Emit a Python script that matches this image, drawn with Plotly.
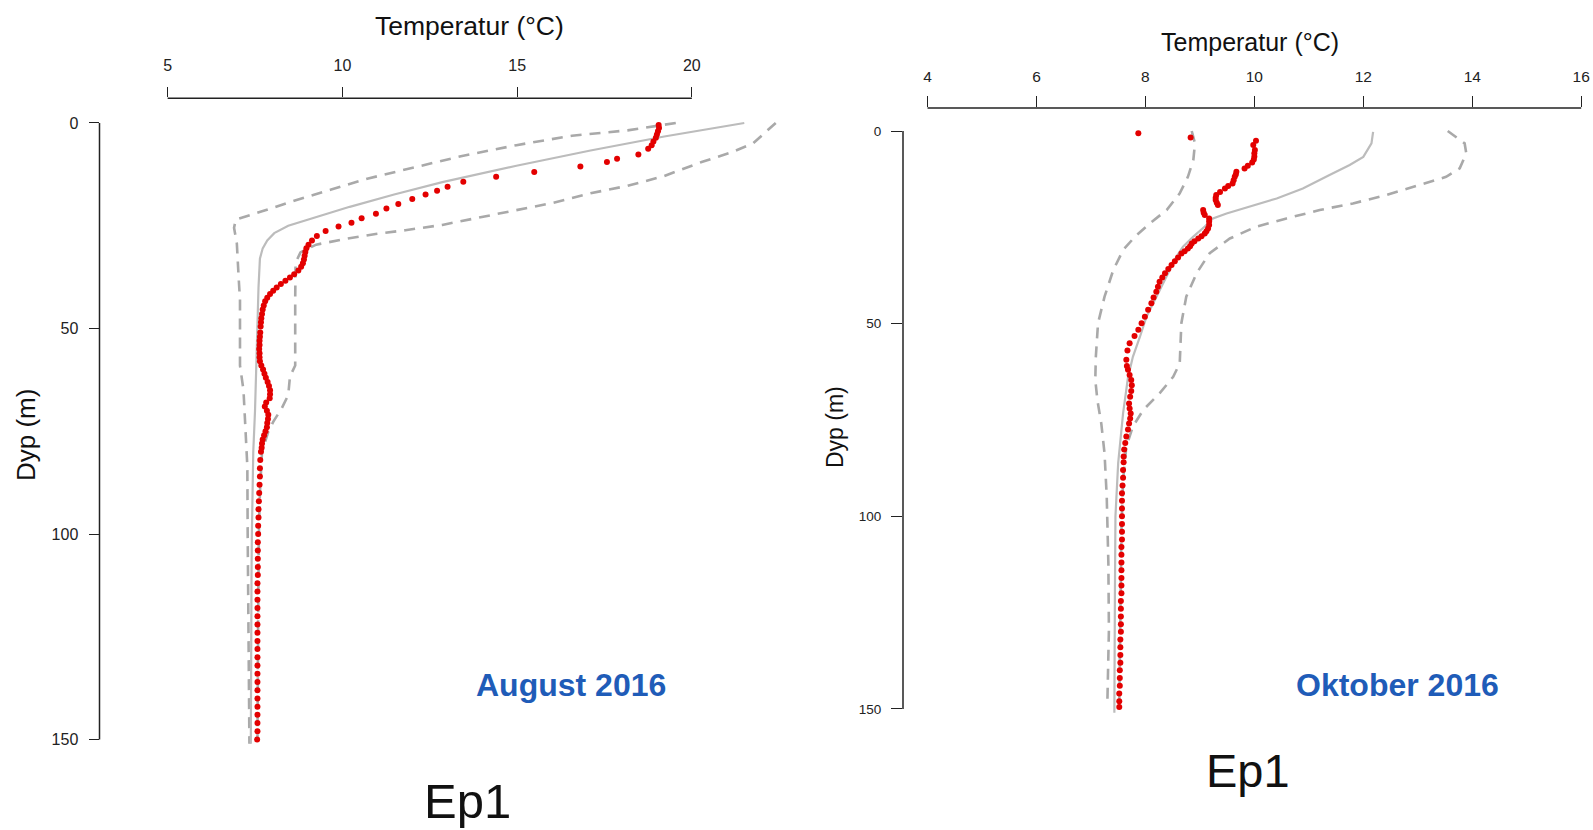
import plotly.graph_objects as go

W, H = 1593, 830
FONT = "Liberation Sans, Arial, sans-serif"

# ---------------- August 2016 (left panel) ----------------
aug_x_ticks = [5, 10, 15, 20]
aug_y_ticks = [0, 50, 100, 150]

aug_red_depth = [0.5, 1.2, 2.0, 2.8, 3.6, 4.5, 5.4, 6.3, 7.7, 8.7, 9.5, 10.6, 11.9, 13.1, 14.3,
                 15.5, 16.5, 17.4, 18.5, 19.7, 20.8, 22.1, 23.2, 24.3, 25.2, 26.3, 27.5, 28.6,
                 29.6, 30.5, 31.4, 32.3, 33.2, 34.1, 35.0, 35.9, 36.8, 37.6, 38.4, 39.2, 40.0,
                 40.8, 41.6, 42.5, 43.4, 44.4, 45.4, 46.5, 47.5, 48.5, 49.5, 51, 52, 53, 54, 55,
                 56, 57, 58, 59, 60, 61, 62, 63, 64, 65, 66, 67, 68, 69, 70, 71, 72, 73, 74, 75,
                 76, 77, 78, 79, 80, 82, 84, 86, 88, 90, 92, 94, 96, 98, 100, 102, 104, 106, 108,
                 110, 112, 114, 116, 118, 120, 122, 124, 126, 128, 130, 132, 134, 136, 138, 140,
                 142, 144, 146, 148, 150]
aug_red_temp = [19.05, 19.06, 19.03, 19.00, 18.97, 18.90, 18.85, 18.75, 18.47, 17.86, 17.57, 16.81,
                15.49, 14.40, 13.46, 13.01, 12.71, 12.38, 12.00, 11.60, 11.26, 10.96, 10.55, 10.26,
                9.89, 9.52, 9.27, 9.13, 9.03, 8.97, 8.94, 8.92, 8.90, 8.87, 8.82, 8.74, 8.62, 8.50,
                8.37, 8.24, 8.12, 8.02, 7.93, 7.85, 7.79, 7.75, 7.72, 7.70, 7.68, 7.67, 7.66, 7.65,
                7.64, 7.63, 7.63, 7.62, 7.63, 7.63, 7.64, 7.68, 7.73, 7.77, 7.81, 7.86, 7.90, 7.93,
                7.93, 7.92, 7.82, 7.78, 7.84, 7.88, 7.87, 7.85, 7.84, 7.80, 7.76, 7.72, 7.70, 7.69,
                7.67, 7.65, 7.64, 7.64, 7.63, 7.62, 7.61, 7.60, 7.60, 7.59, 7.59, 7.58, 7.58, 7.58,
                7.58, 7.58, 7.57, 7.57, 7.57, 7.57, 7.57, 7.57, 7.57, 7.57, 7.57, 7.57, 7.57, 7.57,
                7.57, 7.57, 7.57, 7.57, 7.57, 7.57, 7.57, 7.56]

aug_mean_depth = [0, 3.3, 6.7, 10.4, 14.4, 17.4, 20.4, 23.1, 25.0, 26.8, 28.6, 30.5, 33, 40, 50,
                  60, 70, 80, 90, 100, 110, 120, 130, 140, 151]
aug_mean_temp = [21.5, 19.21, 17.1, 14.98, 12.86, 11.48, 10.21, 9.15, 8.45, 8.05, 7.85, 7.72, 7.64,
                 7.60, 7.57, 7.53, 7.50, 7.45, 7.42, 7.41, 7.40, 7.39, 7.38, 7.38, 7.38]

aug_lo_depth = [0, 1.8, 3.1, 5.4, 8.1, 11.3, 13.5, 16.2, 18.9, 21.5, 23.5, 25.5, 29.3, 37.4, 43,
                59, 65, 70, 76, 83.5, 100, 120, 140, 151]
aug_lo_temp = [19.54, 18.16, 16.57, 14.98, 13.39, 11.80, 10.74, 9.68, 8.62, 7.70, 6.95, 6.90, 6.98,
               7.03, 7.07, 7.07, 7.17, 7.20, 7.24, 7.28, 7.29, 7.31, 7.33, 7.34]

aug_hi_depth = [0, 4.9, 7.2, 9.5, 12.9, 15.3, 17.1, 19.4, 21.2, 23, 24.8, 26.1, 27, 28.2, 29.6,
                31.5, 34, 43, 59, 61.7, 66.2, 69.5, 72.7, 75.1, 80, 90, 100, 120, 140, 150]
aug_hi_temp = [22.4, 21.76, 21.12, 20.28, 19.21, 18.16, 17.10, 16.04, 14.98, 13.92, 12.86, 11.80,
               10.95, 10.10, 9.25, 8.80, 8.66, 8.65, 8.65, 8.50, 8.45, 8.26, 8.02, 7.88, 7.70,
               7.64, 7.61, 7.59, 7.58, 7.57]

# ---------------- Oktober 2016 (right panel) ----------------
okt_x_ticks = [4, 6, 8, 10, 12, 14, 16]
okt_y_ticks = [0, 50, 100, 150]

okt_red_depth = [0.6, 1.7, 2.5, 3.6, 4.9, 5.8, 6.6, 7.4, 8.2, 9.0, 9.7, 10.6, 11.3, 11.9, 12.8,
                 13.6, 14.3, 14.9, 15.8, 16.6, 17.3, 17.9, 18.6, 19.2, 20.5, 21.2, 21.8, 22.7,
                 23.5, 24.4, 25.3, 26.0, 26.6, 27.3, 27.9, 28.6, 29.2, 29.9, 30.5, 31.2, 31.8,
                 32.8, 33.8, 34.8, 35.8, 36.9, 38.0, 39.1, 40.4, 41.7, 43.2, 44.7, 46.4, 48.2,
                 49.9, 51.6, 53.2, 55.1, 57, 59.4, 61, 62, 63.3, 64.6, 66, 67.5, 69, 70.7, 72,
                 73.3, 74.6, 75.9, 77.5, 79.3, 81, 82.7, 84.5, 86, 88, 90, 92, 94, 96, 98, 100,
                 102, 104, 106, 108, 110, 112, 114, 116, 118, 120, 122, 124, 126, 128, 130, 132,
                 134, 136, 138, 140, 142, 144, 146, 148, 149.5]
okt_red_temp = [7.87, 8.83, 10.03, 9.98, 10.01, 10.00, 10.00, 9.99, 9.96, 9.88, 9.82, 9.67, 9.66,
                9.64, 9.62, 9.60, 9.52, 9.46, 9.37, 9.30, 9.29, 9.29, 9.31, 9.33, 9.06, 9.07,
                9.09, 9.17, 9.17, 9.17, 9.15, 9.12, 9.09, 9.03, 8.97, 8.90, 8.85, 8.82, 8.78,
                8.72, 8.66, 8.60, 8.54, 8.48, 8.42, 8.36, 8.31, 8.26, 8.23, 8.20, 8.15, 8.11,
                8.05, 7.99, 7.93, 7.87, 7.80, 7.71, 7.67, 7.65, 7.66, 7.68, 7.71, 7.74, 7.75,
                7.74, 7.72, 7.70, 7.71, 7.73, 7.72, 7.70, 7.68, 7.65, 7.63, 7.61, 7.60, 7.60,
                7.59, 7.59, 7.58, 7.57, 7.57, 7.57, 7.57, 7.57, 7.57, 7.57, 7.56, 7.56, 7.56,
                7.56, 7.56, 7.56, 7.56, 7.55, 7.55, 7.55, 7.55, 7.55, 7.54, 7.54, 7.54, 7.54,
                7.53, 7.53, 7.53, 7.52, 7.52, 7.52]

okt_mean_depth = [0.2, 3.2, 6.7, 8.8, 11.4, 14.9, 17.5, 19.6, 21.4, 22.7, 24.8, 27.4, 30, 32.6,
                  36.1, 39.5, 43, 48.2, 53.4, 58.6, 64, 73.3, 86.2, 100, 121, 140, 151]
okt_mean_temp = [12.18, 12.15, 12.00, 11.75, 11.38, 10.89, 10.41, 9.92, 9.49, 9.24, 9.09, 8.88,
                 8.69, 8.57, 8.45, 8.32, 8.20, 8.02, 7.90, 7.77, 7.68, 7.59, 7.50, 7.45, 7.44,
                 7.43, 7.43]

okt_lo_depth = [0, 3.2, 7.5, 11.9, 16.2, 20.5, 24, 27.4, 30.9, 36.1, 43, 49.9, 58.6, 64.6, 70,
                75.9, 83.7, 94.9, 112.2, 129.5, 149.4]
okt_lo_temp = [8.85, 8.91, 8.88, 8.78, 8.63, 8.39, 8.08, 7.81, 7.59, 7.41, 7.25, 7.13, 7.09, 7.08,
               7.12, 7.19, 7.25, 7.29, 7.32, 7.33, 7.30]

okt_hi_depth = [0, 3.2, 5.8, 9.7, 11.9, 14, 16.6, 18.8, 20.5, 22.7, 24.8, 27.9, 31.7, 36.9, 43,
                49.9, 58.6, 60.3, 63.8, 68.1, 72.4, 76.7, 81.9, 90.6, 103.6, 129.5, 149.8]
okt_hi_temp = [13.55, 13.86, 13.89, 13.77, 13.52, 13.03, 12.42, 11.81, 11.20, 10.59, 10.04, 9.55,
               9.18, 8.94, 8.75, 8.66, 8.63, 8.63, 8.51, 8.26, 7.96, 7.77, 7.65, 7.59, 7.56, 7.54,
               7.52]

# ---------------- styling ----------------
RED = "#e30000"
SOLID_C = "#bcbcbc"
DASH_C = "#a9a9a9"
AX_C = "#222222"
BLUE = "#1f5cb8"


def P(px, py):
    return px / W, 1 - py / H


fig = go.Figure()


def add_panel(xa, ya, lo_t, lo_d, hi_t, hi_d, mean_t, mean_d, red_t, red_d):
    for t, d in ((lo_t, lo_d), (hi_t, hi_d)):
        fig.add_trace(go.Scatter(x=t, y=d, mode="lines", xaxis=xa, yaxis=ya,
                                 line=dict(color=DASH_C, width=2.6, dash="11px,8px"),
                                 hoverinfo="skip"))
    fig.add_trace(go.Scatter(x=mean_t, y=mean_d, mode="lines", xaxis=xa, yaxis=ya,
                             line=dict(color=SOLID_C, width=2.2), hoverinfo="skip"))
    fig.add_trace(go.Scatter(x=red_t, y=red_d, mode="markers", xaxis=xa, yaxis=ya,
                             marker=dict(color=RED, size=6, line=dict(width=0))))


add_panel("x", "y", aug_lo_temp, aug_lo_depth, aug_hi_temp, aug_hi_depth,
          aug_mean_temp, aug_mean_depth, aug_red_temp, aug_red_depth)
add_panel("x2", "y2", okt_lo_temp, okt_lo_depth, okt_hi_temp, okt_hi_depth,
          okt_mean_temp, okt_mean_depth, okt_red_temp, okt_red_depth)

common_axis = dict(showgrid=False, zeroline=False, showline=False, ticks="outside",
                   tickwidth=1.4, tickcolor=AX_C)

fig.update_layout(
    width=W, height=H, margin=dict(l=0, r=0, t=0, b=0),
    paper_bgcolor="white", plot_bgcolor="white", showlegend=False,
    font=dict(family=FONT, color="#222"),
    xaxis=dict(common_axis, domain=[99.5 / W, 796.7 / W], range=[3.05, 23.0], side="top",
               anchor="y", tickvals=aug_x_ticks, ticklen=10, ticklabelstandoff=10,
               tickfont=dict(family=FONT, size=16, color="#222")),
    yaxis=dict(common_axis, domain=[1 - 764.2 / H, 1 - 98.3 / H], range=[156, -6], anchor="x",
               tickvals=aug_y_ticks, ticklen=10, ticklabelstandoff=7,
               tickfont=dict(family=FONT, size=16, color="#222")),
    xaxis2=dict(common_axis, domain=[903 / W, 1591 / W], range=[3.55, 16.18], side="top",
                anchor="y2", tickvals=okt_x_ticks, ticklen=11, ticklabelstandoff=8,
                tickfont=dict(family=FONT, size=15.5, color="#222")),
    yaxis2=dict(common_axis, domain=[1 - 732 / H, 1 - 107.9 / H], range=[156, -6], anchor="x2",
                tickvals=okt_y_ticks, ticklen=11, ticklabelstandoff=7,
                tickfont=dict(family=FONT, size=13.5, color="#222")),
)

# R-style axis lines spanning only the tick range
for xa, ya, xt, yt in (("x", "y", aug_x_ticks, aug_y_ticks), ("x2", "y2", okt_x_ticks, okt_y_ticks)):
    fig.add_shape(type="line", xref=xa, yref=ya + " domain", x0=min(xt), x1=max(xt), y0=1, y1=1,
                  line=dict(color=AX_C, width=1.5))
    fig.add_shape(type="line", xref=xa + " domain", yref=ya, x0=0, x1=0, y0=min(yt), y1=max(yt),
                  line=dict(color=AX_C, width=1.5))


def ann(text, px, py, size, color="#111", bold=False, angle=0, yanchor="middle"):
    x, y = P(px, py)
    fig.add_annotation(x=x, y=y, xref="paper", yref="paper", text=f"<b>{text}</b>" if bold else text,
                       showarrow=False, xanchor="center", yanchor=yanchor, textangle=angle,
                       borderpad=0, font=dict(family=FONT, size=size, color=color))


ann("Temperatur (°C)", 469, 26, 26.5)
ann("Temperatur (°C)", 1250, 42, 25)
ann("Dyp (m)", 26, 435, 26, angle=-90)
ann("Dyp (m)", 835, 427, 23, angle=-90)
ann("August 2016", 571, 685, 32, color=BLUE, bold=True)
ann("Oktober 2016", 1397, 685, 32, color=BLUE, bold=True)
ann("Ep1", 467, 829, 49, yanchor="bottom")
ann("Ep1", 1248, 770, 47)

fig.write_html("out.html")
